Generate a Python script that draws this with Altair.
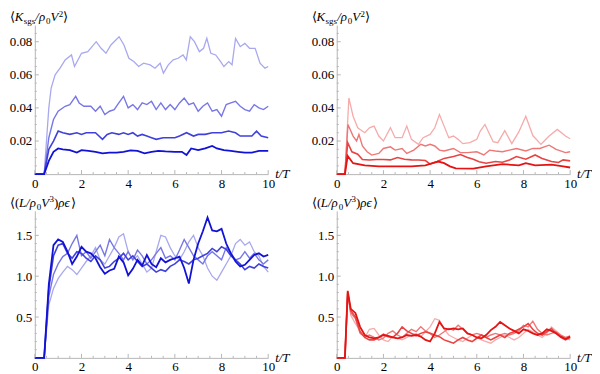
import altair as alt
import pandas as pd

FONT = "Liberation Serif"
AX = "#b5b5b5"

# ---------------- data: top-left (K_sgs, blue) ----------------
t_kb1 = [0, 0.4, 0.5, 0.6, 0.7, 0.87, 1.08, 1.3, 1.57, 1.7, 2.0, 2.27, 2.63, 2.84, 3.05, 3.26, 3.61, 3.82, 4.03, 4.24,
         4.45, 4.66, 4.94, 5.15, 5.37, 5.51, 5.72, 5.93, 6.14, 6.35, 6.49, 6.66, 6.84, 7.05, 7.23, 7.37, 7.54, 7.75,
         7.96, 8.1, 8.31, 8.45, 8.6, 8.8, 9.0, 9.2, 9.44, 9.65, 9.86, 10]
k_b1 = [0, 0, 0.02, 0.04, 0.052, 0.060, 0.064, 0.069, 0.072, 0.065, 0.073, 0.074, 0.080, 0.076, 0.073, 0.078, 0.083,
        0.078, 0.070, 0.068, 0.065, 0.067, 0.066, 0.064, 0.067, 0.061, 0.066, 0.069, 0.070, 0.072, 0.069, 0.083, 0.080,
        0.074, 0.076, 0.082, 0.073, 0.072, 0.068, 0.065, 0.068, 0.066, 0.082, 0.077, 0.079, 0.076, 0.076, 0.067, 0.064,
        0.065]
t_kb2 = [0, 0.4, 0.6, 0.8, 1.0, 1.3, 1.5, 1.75, 1.9, 2.1, 2.4, 2.6, 2.8, 3.0, 3.2, 3.4, 3.6, 3.8, 4.0, 4.2, 4.4, 4.6,
         4.8, 5.0, 5.2, 5.4, 5.6, 5.8, 6.0, 6.2, 6.4, 6.6, 6.8, 7.0, 7.2, 7.4, 7.6, 7.8, 8.0, 8.2, 8.4, 8.6, 8.8, 9.0,
         9.2, 9.4, 9.6, 9.8, 10]
k_b2 = [0, 0, 0.022, 0.033, 0.038, 0.041, 0.042, 0.047, 0.043, 0.041, 0.041, 0.038, 0.041, 0.036, 0.038, 0.039, 0.043,
        0.047, 0.040, 0.042, 0.039, 0.043, 0.042, 0.044, 0.039, 0.043, 0.039, 0.042, 0.039, 0.043, 0.046, 0.042, 0.043,
        0.038, 0.041, 0.043, 0.038, 0.039, 0.035, 0.042, 0.043, 0.044, 0.041, 0.039, 0.038, 0.042, 0.040, 0.039, 0.041]
t_kb3 = [0, 0.4, 0.6, 0.8, 1.0, 1.2, 1.5, 1.8, 2.0, 2.2, 2.4, 2.6, 2.9, 3.1, 3.3, 3.6, 3.8, 4.0, 4.2, 4.4, 4.6, 4.8,
         5.0, 5.2, 5.5, 5.8, 6.0, 6.2, 6.5, 6.8, 7.0, 7.3, 7.6, 8.0, 8.3, 8.6, 8.8, 9.0, 9.3, 9.5, 9.7, 10]
k_b3 = [0, 0, 0.015, 0.020, 0.026, 0.025, 0.024, 0.025, 0.024, 0.025, 0.025, 0.025, 0.021, 0.024, 0.025, 0.024, 0.025,
        0.024, 0.025, 0.023, 0.024, 0.023, 0.022, 0.021, 0.022, 0.022, 0.022, 0.023, 0.025, 0.023, 0.024, 0.024, 0.025,
        0.025, 0.026, 0.025, 0.023, 0.023, 0.023, 0.026, 0.023, 0.022]
t_kb4 = [0, 0.4, 0.6, 0.8, 1.0, 1.2, 1.5, 1.8, 2.0, 2.3, 2.6, 2.9, 3.2, 3.5, 3.8, 4.1, 4.4, 4.7, 5.0, 5.3, 5.6, 6.0,
         6.3, 6.5, 6.7, 7.0, 7.3, 7.6, 7.8, 8.1, 8.4, 8.7, 9.0, 9.3, 9.6, 10]
k_b4 = [0, 0, 0.008, 0.0135, 0.0155, 0.015, 0.0145, 0.013, 0.0145, 0.014, 0.0135, 0.0125, 0.013, 0.013, 0.0135, 0.0143,
        0.014, 0.0125, 0.0135, 0.014, 0.0137, 0.0135, 0.0135, 0.0115, 0.0155, 0.0145, 0.0155, 0.017, 0.0155, 0.0145,
        0.014, 0.0135, 0.013, 0.013, 0.014, 0.014]

# ---------------- data: top-right (K_sgs, red) ----------------
t_kr1 = [0, 0.35, 0.52, 0.7, 0.9, 1.0, 1.2, 1.4, 1.6, 1.8, 2.0, 2.3, 2.5, 2.8, 3.0, 3.2, 3.5, 3.7, 4.0, 4.2, 4.4, 4.6,
         4.8, 5.0, 5.2, 5.4, 5.7, 6.0, 6.15, 6.35, 6.7, 6.9, 7.2, 7.5, 7.8, 8.1, 8.4, 8.75, 9.1, 9.45, 9.8, 10]
k_r1 = [0, 0, 0.046, 0.035, 0.028, 0.027, 0.025, 0.028, 0.029, 0.023, 0.020, 0.028, 0.022, 0.022, 0.029, 0.021, 0.018,
        0.022, 0.024, 0.028, 0.036, 0.029, 0.022, 0.023, 0.021, 0.0184, 0.019, 0.021, 0.026, 0.030, 0.0196, 0.019,
        0.0263, 0.0184, 0.0255, 0.035, 0.0233, 0.018, 0.023, 0.027, 0.023, 0.0214]
t_kr2 = [0, 0.35, 0.48, 0.7, 0.85, 0.95, 1.1, 1.3, 1.5, 1.8, 2.0, 2.3, 2.5, 2.8, 3.0, 3.3, 3.6, 3.8, 4.0, 4.2, 4.4, 4.6,
         5.0, 5.3, 5.6, 6.0, 6.3, 6.55, 6.8, 7.1, 7.4, 7.7, 8.1, 8.4, 8.7, 9.1, 9.4, 9.8, 10]
k_r2 = [0, 0, 0.030, 0.023, 0.020, 0.024, 0.017, 0.0135, 0.0115, 0.0125, 0.0155, 0.0165, 0.0145, 0.0155, 0.0125, 0.0145,
        0.018, 0.017, 0.018, 0.017, 0.0145, 0.014, 0.0155, 0.013, 0.013, 0.0135, 0.0116, 0.0145, 0.014, 0.0135, 0.0145,
        0.0155, 0.014, 0.0155, 0.0155, 0.0175, 0.015, 0.013, 0.0135]
t_kr3 = [0, 0.35, 0.47, 0.65, 0.9, 1.1, 1.4, 1.7, 2.0, 2.3, 2.6, 2.9, 3.2, 3.5, 3.8, 4.0, 4.3, 4.6, 5.0, 5.3, 5.6, 5.85,
         6.1, 6.4, 6.8, 7.1, 7.4, 7.7, 8.1, 8.5, 8.8, 9.2, 9.5, 9.7, 10]
k_r3 = [0, 0, 0.019, 0.0135, 0.012, 0.0088, 0.0085, 0.0088, 0.0088, 0.0086, 0.0100, 0.009, 0.0086, 0.0085, 0.0082,
        0.006, 0.0076, 0.0095, 0.0106, 0.0118, 0.010, 0.009, 0.0075, 0.0066, 0.0076, 0.0072, 0.0086, 0.0106, 0.009,
        0.0116, 0.0095, 0.0076, 0.007, 0.0086, 0.008]
t_kr4 = [0, 0.35, 0.47, 0.7, 1.2, 1.8, 2.5, 3.2, 3.8, 4.1, 4.35, 4.6, 4.85, 5.1, 5.85, 6.4, 7.1, 7.8, 8.1, 8.5, 9.2,
         9.7, 10]
k_r4 = [0, 0, 0.011, 0.0066, 0.0053, 0.0047, 0.0047, 0.0047, 0.0053, 0.0066, 0.0076, 0.0066, 0.0047, 0.0035, 0.0033,
        0.0047, 0.006, 0.0053, 0.0066, 0.0053, 0.0057, 0.0047, 0.004]

# ---------------- data: bottom-left (dissipation, blue) ----------------
t_eb = [0, 0.4, 0.6, 0.8, 1.0, 1.2, 1.4, 1.6, 1.8, 2.0, 2.2, 2.4, 2.6, 2.8, 3.0, 3.2, 3.4, 3.6, 3.8, 4.0, 4.2, 4.4,
        4.6, 4.8, 5.0, 5.2, 5.4, 5.6, 5.8, 6.0, 6.2, 6.4, 6.6, 6.8, 7.0, 7.2, 7.4, 7.6, 7.8, 8.0, 8.2, 8.4, 8.6, 8.8,
        9.0, 9.2, 9.4, 9.6, 9.8, 10.0]
e_b1 = [0, 0, 0.65, 0.85, 0.97, 1.05, 1.12, 1.08, 1.02, 1.10, 1.18, 1.25, 1.35, 1.20, 1.15, 1.25, 1.35, 1.48, 1.52,
        1.30, 1.20, 1.25, 1.15, 1.05, 1.10, 1.30, 1.50, 1.48, 1.35, 1.25, 1.20, 1.30, 1.42, 1.50, 1.35, 1.25, 1.10,
        1.00, 0.95, 1.05, 1.15, 1.25, 1.40, 1.45, 1.38, 1.42, 1.30, 1.25, 1.12, 1.05]
e_b2 = [0, 0, 0.75, 1.02, 1.15, 1.24, 1.28, 1.40, 1.50, 1.25, 1.30, 1.22, 1.30, 1.38, 1.25, 1.45, 1.35, 1.28, 1.20,
        1.30, 1.20, 1.32, 1.25, 1.15, 1.20, 1.28, 1.35, 1.22, 1.25, 1.20, 1.32, 1.45, 1.35, 1.25, 1.20, 1.15, 1.25,
        1.30, 1.25, 1.20, 1.35, 1.28, 1.20, 1.22, 1.30, 1.22, 1.28, 1.20, 1.15, 1.20]
e_b3 = [0, 0, 0.85, 1.25, 1.38, 1.40, 1.28, 1.22, 1.30, 1.28, 1.22, 1.18, 1.25, 1.20, 1.10, 1.12, 1.18, 1.22, 1.28,
        1.20, 1.25, 1.18, 1.12, 1.15, 1.10, 1.05, 1.08, 1.06, 1.12, 1.15, 1.20, 1.18, 1.15, 1.20, 1.22, 1.25, 1.28,
        1.34, 1.30, 1.36, 1.33, 1.25, 1.20, 1.15, 1.08, 1.12, 1.10, 1.15, 1.12, 1.10]
e_b4 = [0, 0, 0.9, 1.38, 1.45, 1.42, 1.30, 1.15, 1.24, 1.36, 1.30, 1.28, 1.22, 1.11, 1.03, 1.07, 1.09, 1.24, 1.17,
        1.01, 1.09, 1.20, 1.13, 1.26, 1.15, 1.11, 1.22, 1.17, 1.20, 1.22, 1.24, 1.10, 0.91, 1.20, 1.40, 1.55, 1.72,
        1.56, 1.55, 1.58, 1.40, 1.28, 1.18, 1.12, 1.14, 1.20, 1.26, 1.28, 1.24, 1.26]

# ---------------- data: bottom-right (dissipation, red) ----------------
t_er = [0, 0.35, 0.47, 0.6, 0.8, 1.0, 1.2, 1.4, 1.6, 1.8, 2.0, 2.2, 2.4, 2.6, 2.8, 3.0, 3.2, 3.4, 3.6, 3.8, 4.0, 4.2,
        4.4, 4.6, 4.8, 5.0, 5.2, 5.4, 5.6, 5.8, 6.0, 6.2, 6.4, 6.6, 6.8, 7.0, 7.2, 7.4, 7.6, 7.8, 8.0, 8.2, 8.4, 8.6,
        8.8, 9.0, 9.2, 9.4, 9.6, 9.8, 10.0]
e_r1 = [0, 0, 0.78, 0.52, 0.42, 0.33, 0.25, 0.35, 0.36, 0.28, 0.22, 0.20, 0.26, 0.24, 0.22, 0.25, 0.28, 0.30, 0.26,
        0.32, 0.38, 0.48, 0.46, 0.35, 0.28, 0.25, 0.22, 0.20, 0.24, 0.28, 0.25, 0.22, 0.20, 0.18, 0.22, 0.25, 0.28,
        0.25, 0.22, 0.25, 0.30, 0.35, 0.32, 0.28, 0.25, 0.30, 0.38, 0.33, 0.28, 0.24, 0.22]
e_r2 = [0, 0, 0.80, 0.55, 0.48, 0.30, 0.26, 0.28, 0.25, 0.22, 0.24, 0.30, 0.33, 0.28, 0.25, 0.30, 0.35, 0.32, 0.38,
        0.33, 0.30, 0.25, 0.28, 0.32, 0.36, 0.34, 0.40, 0.35, 0.30, 0.28, 0.30, 0.28, 0.25, 0.28, 0.30, 0.28, 0.30,
        0.28, 0.30, 0.33, 0.40, 0.38, 0.45, 0.35, 0.30, 0.28, 0.30, 0.32, 0.28, 0.25, 0.27]
e_r3 = [0, 0, 0.80, 0.58, 0.50, 0.32, 0.25, 0.22, 0.22, 0.25, 0.29, 0.26, 0.25, 0.30, 0.38, 0.33, 0.30, 0.27, 0.30,
        0.32, 0.30, 0.28, 0.26, 0.22, 0.20, 0.18, 0.22, 0.25, 0.22, 0.20, 0.24, 0.28, 0.25, 0.22, 0.25, 0.28, 0.25,
        0.30, 0.32, 0.35, 0.38, 0.42, 0.35, 0.30, 0.28, 0.32, 0.36, 0.30, 0.25, 0.22, 0.25]
e_r4 = [0, 0, 0.82, 0.60, 0.55, 0.38, 0.28, 0.25, 0.24, 0.25, 0.28, 0.27, 0.25, 0.24, 0.25, 0.28, 0.27, 0.28, 0.26,
        0.22, 0.20, 0.30, 0.44, 0.36, 0.35, 0.36, 0.35, 0.36, 0.30, 0.28, 0.25, 0.24, 0.28, 0.34, 0.38, 0.44, 0.40,
        0.36, 0.33, 0.30, 0.35, 0.33, 0.30, 0.28, 0.30, 0.35, 0.33, 0.30, 0.26, 0.23, 0.26]

# ---------------- axis ticks / labels ----------------
x_major = [0, 2, 4, 6, 8, 10]
x_minor = [0.5, 1.0, 1.5, 2.5, 3.0, 3.5, 4.5, 5.0, 5.5, 6.5, 7.0, 7.5, 8.5, 9.0, 9.5]
k_major = [0.02, 0.04, 0.06, 0.08]
k_minor = [0.005, 0.01, 0.015, 0.025, 0.03, 0.035, 0.045, 0.05, 0.055, 0.065, 0.07, 0.075, 0.085]
e_major = [0.5, 1.0, 1.5]
e_minor = [0.1, 0.2, 0.3, 0.4, 0.6, 0.7, 0.8, 0.9, 1.1, 1.2, 1.3, 1.4, 1.6, 1.7]

blues = ["#a8a8ef", "#7777e6", "#4040da", "#1212d6"]
reds = ["#f6abab", "#ee7777", "#e84444", "#e41414"]
widths = [1.3, 1.4, 1.6, 1.8]

# title pieces: (text, x offset, dy, size, italic)
title_k = [("⟨", 0, 0, 13, False), ("K", 4.7, 0, 13, True), ("sgs", 13.8, 3, 9, False),
           ("/ρ", 25.5, 0, 13, True), ("0", 36.2, 3, 9, False), ("V", 40.7, 0, 13, True),
           ("2", 49, -4.5, 9, False), ("⟩", 53.5, 0, 13, False)]
title_e = [("⟨(", 0, 0, 13, False), ("L/ρ", 9, 0, 13, True), ("0", 27, 3, 9, False),
           ("V", 31.5, 0, 13, True), ("3", 39.8, -4.5, 9, False), (")", 44.3, 0, 13, False),
           ("ρϵ", 48.6, 0, 13, True), ("⟩", 61.8, 0, 13, False)]

W = 235
H_TOP = 150
H_BOT = 148
TITLE_Y = -4


def text_piece(txt, x, y, size, italic):
    return alt.Chart(pd.DataFrame({"a": [0]})).mark_text(
        text=txt, font=FONT, fontSize=size, fontStyle="italic" if italic else "normal",
        align="left", baseline="alphabetic", color="black"
    ).encode(x=alt.value(x), y=alt.value(y))


def panel(series, colors, ydom, ymaj, ymin, yfmt, title, h):
    xs = alt.Scale(domain=[0, 10], nice=False, zero=False)
    ys = alt.Scale(domain=ydom, nice=False, zero=True)
    xa = alt.Axis(values=x_major, title=None, grid=False, ticks=False, tickSize=0,
                  labelFont=FONT, labelFontSize=13, labelColor="black",
                  labelPadding=3, domainColor=AX, labelFlush=False,
                  labelAngle=0, labelOverlap=False)
    ya = alt.Axis(values=ymaj, format=yfmt, title=None, grid=False, ticks=False,
                  tickSize=0, labelFont=FONT, labelFontSize=13, labelColor="black",
                  labelPadding=3, domainColor=AX, labelFlush=False, labelOverlap=False)
    layers = []
    for (t, v), c, sw in zip(series, colors, widths):
        df = pd.DataFrame({"t": t, "v": v})
        layers.append(alt.Chart(df).mark_line(color=c, strokeWidth=sw).encode(
            x=alt.X("t:Q", scale=xs, axis=xa), y=alt.Y("v:Q", scale=ys, axis=ya)))
    # inward ticks
    for vals, ln in ((x_major, 4), (x_minor, 2)):
        layers.append(alt.Chart(pd.DataFrame({"t": vals})).mark_rule(color=AX, strokeWidth=1).encode(
            x=alt.X("t:Q", scale=xs, axis=xa), y=alt.value(h), y2=alt.value(h - ln)))
    for vals, ln in ((ymaj, 4), (ymin, 2)):
        layers.append(alt.Chart(pd.DataFrame({"v": vals})).mark_rule(color=AX, strokeWidth=1).encode(
            y=alt.Y("v:Q", scale=ys, axis=ya), x=alt.value(0), x2=alt.value(ln)))
    for txt, dx, dy, size, it in title:
        layers.append(text_piece(txt, -25 + dx, TITLE_Y + dy, size, it))
    layers.append(text_piece("t/T", W + 7, h + 4, 13, True))
    return alt.layer(*layers).properties(width=W, height=h)


p1 = panel([(t_kb1, k_b1), (t_kb2, k_b2), (t_kb3, k_b3), (t_kb4, k_b4)], blues,
           [0, 0.09], k_major, k_minor, ".2f", title_k, H_TOP)
p2 = panel([(t_kr1, k_r1), (t_kr2, k_r2), (t_kr3, k_r3), (t_kr4, k_r4)], reds,
           [0, 0.09], k_major, k_minor, ".2f", title_k, H_TOP)
p3 = panel([(t_eb, e_b1), (t_eb, e_b2), (t_eb, e_b3), (t_eb, e_b4)], blues,
           [0, 1.8], e_major, e_minor, ".1f", title_e, H_BOT)
p4 = panel([(t_er, e_r1), (t_er, e_r2), (t_er, e_r3), (t_er, e_r4)], reds,
           [0, 1.8], e_major, e_minor, ".1f", title_e, H_BOT)

chart = alt.concat(p1, p2, p3, p4, columns=2, spacing={"row": 37, "column": 69}, bounds="flush").properties(
    padding=0, background="white"
).configure_view(stroke="transparent")

chart.save("out.html", embed_options={"renderer": "svg", "actions": False})
